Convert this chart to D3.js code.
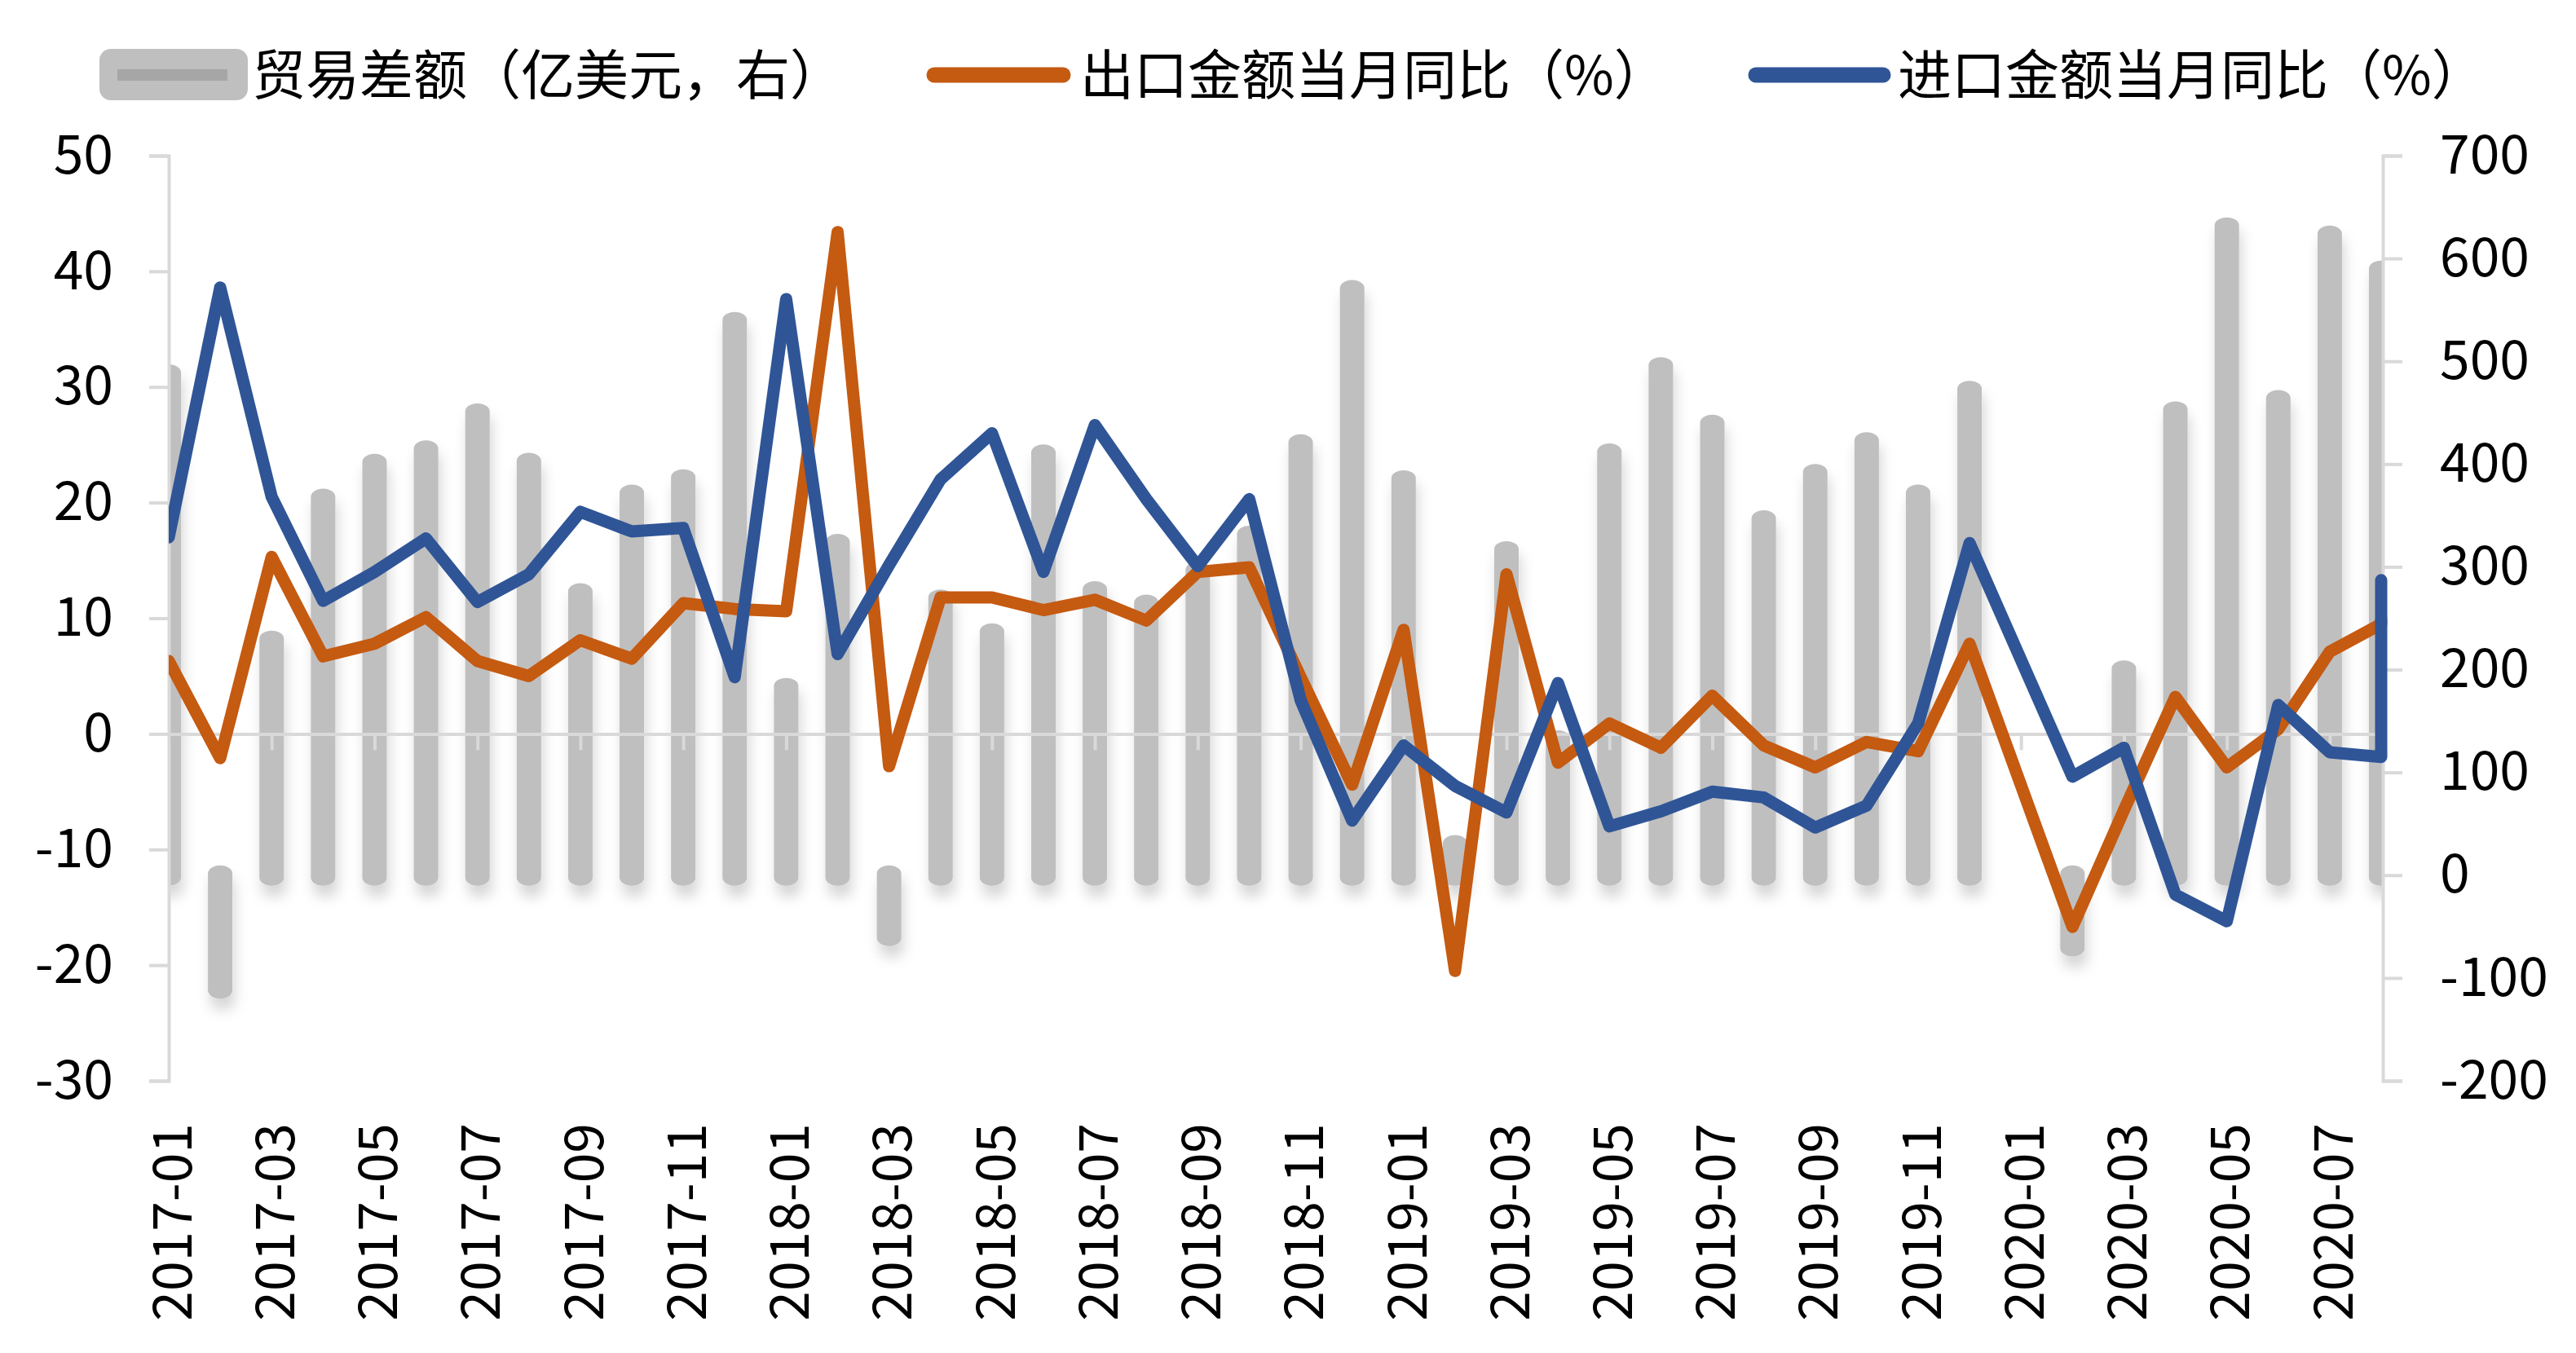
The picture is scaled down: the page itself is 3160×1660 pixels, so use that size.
<html>
<head>
  <meta charset="utf-8">
  <title>贸易差额与进出口同比</title>
  <style>
    body {
      margin: 0;
      padding: 0;
      background: #ffffff;
      font-family: "Noto Sans CJK SC", "Open Sans", sans-serif;
    }
    #chart {
      width: 3160px;
      height: 1660px;
    }
    .axis path,
    .axis line {
      stroke: #d9d9d9;
      stroke-width: 4px;
    }
    .axis text {
      font-size: 66px;
      fill: #000;
      font-family: "Noto Sans CJK SC", "Open Sans", sans-serif;
    }
    .legend text {
      font-size: 66px;
      fill: #000;
    }
  </style>
</head>

<body>
  <div id="chart"></div>

  <script src="https://cdnjs.cloudflare.com/ajax/libs/d3/7.8.5/d3.min.js"></script>
  <script>
    // months on the category axis (2020-09 sits on the last slot, see chart)
    var months = ["2017-01", "2017-02", "2017-03", "2017-04", "2017-05", "2017-06",
      "2017-07", "2017-08", "2017-09", "2017-10", "2017-11", "2017-12",
      "2018-01", "2018-02", "2018-03", "2018-04", "2018-05", "2018-06",
      "2018-07", "2018-08", "2018-09", "2018-10", "2018-11", "2018-12",
      "2019-01", "2019-02", "2019-03", "2019-04", "2019-05", "2019-06",
      "2019-07", "2019-08", "2019-09", "2019-10", "2019-11", "2019-12",
      "2020-01", "2020-02", "2020-03", "2020-04", "2020-05", "2020-06",
      "2020-07", "2020-08", "2020-09"];

    // 贸易差额（亿美元，右）
    var balance = [497, -120, 238, 376, 410, 423, 459, 411, 284, 380, 395, 548,
      192, 332, -69, 278, 245, 419, 286, 273, 305, 340, 429, 579,
      394, 39, 325, 141, 420, 504, 448, 355, 400, 431, 380, 481,
      null, -79, 209, 461, 640, 472, 632, 598, null];

    // 出口金额当月同比（%）
    var exportYoY = [6.3, -2.1, 15.3, 6.7, 7.8, 10.1, 6.3, 5.0, 8.1, 6.5, 11.3, 10.8,
      10.6, 43.4, -2.8, 11.8, 11.8, 10.7, 11.6, 9.8, 14.0, 14.4, 4.9, -4.4,
      9.0, -20.5, 13.8, -2.5, 0.9, -1.2, 3.3, -1.0, -2.9, -0.7, -1.5, 7.8,
      null, -16.7, -6.6, 3.2, -2.9, 0.4, 7.1, 9.5, 9.9];

    // 进口金额当月同比（%）
    var importYoY = [17.0, 38.6, 20.5, 11.5, 14.0, 16.9, 11.4, 13.8, 19.2, 17.5, 17.8, 4.9,
      37.6, 6.9, 14.6, 22.0, 26.0, 14.0, 26.7, 20.3, 14.5, 20.3, 2.9, -7.5,
      -1.0, -4.5, -6.8, 4.4, -8.0, -6.7, -5.0, -5.5, -8.1, -6.2, 0.9, 16.5,
      null, -3.7, -1.2, -13.9, -16.2, 2.5, -1.6, -2.0, 13.3];

    var leftTicks = [-30, -20, -10, 0, 10, 20, 30, 40, 50];
    var rightTicks = [-200, -100, 0, 100, 200, 300, 400, 500, 600, 700];

    var legendNames = ["贸易差额（亿美元，右）", "出口金额当月同比（%）", "进口金额当月同比（%）"];
    var colors = ["#bfbfbf", "#c55a11", "#2f5597"];

    var width = 3160,
      height = 1660;
    // plot area edges (px)
    var plotLeft = 207,
      plotRight = 2921,
      plotTop = 191,
      plotBottom = 1326;

    var svg = d3.select("#chart")
      .append("svg")
      .attr("width", width)
      .attr("height", height);

    var defs = svg.append("defs");
    var shadow = defs.append("filter")
      .attr("id", "shadow")
      .attr("x", "-60%").attr("y", "-20%")
      .attr("width", "220%").attr("height", "140%");
    shadow.append("feDropShadow")
      .attr("dx", 3).attr("dy", 14)
      .attr("stdDeviation", 8)
      .attr("flood-color", "#000")
      .attr("flood-opacity", 0.16);

    defs.append("clipPath").attr("id", "plot")
      .append("rect")
      .attr("x", plotLeft).attr("y", 0)
      .attr("width", plotRight - plotLeft + 2).attr("height", height);

    defs.append("clipPath").attr("id", "plotLines")
      .append("rect")
      .attr("x", plotLeft).attr("y", 0)
      .attr("width", plotRight - plotLeft + 14).attr("height", height);

    // index scale, clamped so the extra month lands on the last slot
    var x = d3.scaleLinear()
      .domain([0, 43])
      .range([plotLeft, plotRight])
      .clamp(true);

    var yL = d3.scaleLinear().domain([-30, 50]).range([plotBottom, plotTop]);
    var yR = d3.scaleLinear().domain([-200, 700]).range([plotBottom, plotTop]);

    var rows = months.map(function(m, i) {
      return { i: i, month: m, bal: balance[i], exp: exportYoY[i], imp: importYoY[i] };
    });

    // bars
    var capR = 10;
    svg.append("g")
      .attr("clip-path", "url(#plot)")
      .append("g")
      .attr("filter", "url(#shadow)")
      .selectAll("rect")
      .data(rows.filter(function(d) { return d.bal != null; }))
      .enter()
      .append("rect")
      .attr("x", function(d) { return x(d.i) - 15; })
      .attr("width", 30)
      .attr("y", function(d) {
        return d.bal >= 0 ? yR(d.bal) : yR(0) - 12;
      })
      .attr("height", function(d) {
        return d.bal >= 0 ? yR(0) + 13 - yR(d.bal) : yR(d.bal) - yR(0) + 12;
      })
      .attr("rx", 15)
      .attr("ry", capR)
      .attr("fill", colors[0]);

    // plain hyphen for negatives, like the original
    var plain = function(d) { return String(d); };

    // zero line with small ticks every two months
    svg.append("g")
      .attr("class", "axis")
      .attr("transform", "translate(0," + yL(0) + ")")
      .call(d3.axisBottom(x)
        .tickValues(d3.range(2, 44, 2))
        .tickSize(20)
        .tickSizeOuter(0)
        .tickFormat(""));

    svg.append("g")
      .attr("class", "axis")
      .attr("transform", "translate(" + plotLeft + ",0)")
      .call(d3.axisLeft(yL)
        .tickValues(leftTicks)
        .tickSize(24)
        .tickPadding(44)
        .tickFormat(plain));

    svg.append("g")
      .attr("class", "axis")
      .attr("transform", "translate(" + (plotRight + 2) + ",0)")
      .call(d3.axisRight(yR)
        .tickValues(rightTicks)
        .tickSize(24)
        .tickPadding(46)
        .tickFormat(plain));

    // month labels along the bottom
    svg.append("g")
      .selectAll("text")
      .data(rows.filter(function(d) { return d.i < 44 && d.i % 2 === 0; }))
      .enter()
      .append("text")
      .attr("transform", function(d) {
        return "translate(" + (x(d.i) + 4) + ",1378) rotate(-90)";
      })
      .attr("text-anchor", "end")
      .attr("dy", "0.36em")
      .style("font-size", "66px")
      .text(function(d) { return d.month; });

    // lines (gaps are bridged, as in the original)
    function drawLine(key, color) {
      var line = d3.line()
        .x(function(d) { return x(d.i); })
        .y(function(d) { return yL(d[key]); });
      svg.append("path")
        .datum(rows.filter(function(d) { return d[key] != null; }))
        .attr("clip-path", "url(#plotLines)")
        .attr("d", line)
        .attr("fill", "none")
        .attr("stroke", color)
        .attr("stroke-width", 15)
        .attr("stroke-linejoin", "round")
        .attr("stroke-linecap", "round");
    }
    drawLine("exp", colors[1]);
    drawLine("imp", colors[2]);

    // legend
    var legend = svg.append("g").attr("class", "legend");
    legend.append("rect")
      .attr("x", 122).attr("y", 60)
      .attr("width", 182).attr("height", 63)
      .attr("rx", 14)
      .attr("fill", colors[0]);
    legend.append("rect")
      .attr("x", 144).attr("y", 85)
      .attr("width", 135).attr("height", 14)
      .attr("fill", "#a6a6a6");
    legend.append("text")
      .attr("x", 309).attr("y", 92)
      .attr("dy", "0.36em")
      .text(legendNames[0]);

    var lineItems = [
      { x0: 1146, x1: 1304, tx: 1325, name: legendNames[1], color: colors[1] },
      { x0: 2154, x1: 2310, tx: 2328, name: legendNames[2], color: colors[2] }
    ];
    lineItems.forEach(function(d) {
      legend.append("line")
        .attr("x1", d.x0).attr("x2", d.x1)
        .attr("y1", 92).attr("y2", 92)
        .attr("stroke", d.color)
        .attr("stroke-width", 19)
        .attr("stroke-linecap", "round");
      legend.append("text")
        .attr("x", d.tx).attr("y", 92)
        .attr("dy", "0.36em")
        .text(d.name);
    });
  </script>
</body>

</html>
